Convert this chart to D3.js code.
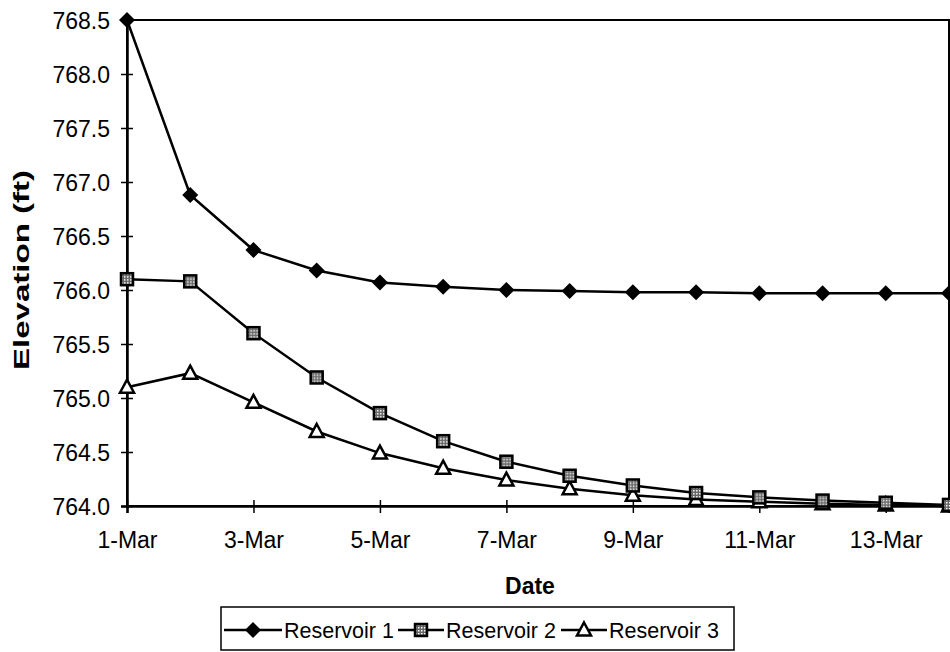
<!DOCTYPE html>
<html>
<head>
<meta charset="utf-8">
<script src="https://cdn.jsdelivr.net/npm/d3@7"></script>
<style>
  body { margin: 0; background: #fff; }
  svg text { font-family: "Liberation Sans", Arial, sans-serif; fill: #000; }
</style>
</head>
<body>
<svg id="chart" width="950" height="652"></svg>
<script>
  // Data
  const dates = ['2001-03-01','2001-03-02','2001-03-03','2001-03-04','2001-03-05','2001-03-06','2001-03-07',
                 '2001-03-08','2001-03-09','2001-03-10','2001-03-11','2001-03-12','2001-03-13','2001-03-14'];
  const reservoir1 = [768.50, 766.88, 766.37, 766.18, 766.07, 766.03, 766.00, 765.99, 765.98, 765.98, 765.97, 765.97, 765.97, 765.97];
  const reservoir2 = [766.10, 766.08, 765.60, 765.19, 764.86, 764.60, 764.41, 764.28, 764.19, 764.12, 764.08, 764.05, 764.03, 764.01];
  const reservoir3 = [765.10, 765.23, 764.96, 764.69, 764.49, 764.35, 764.24, 764.16, 764.10, 764.06, 764.04, 764.02, 764.01, 764.00];
  const seriesNames = ['Reservoir 1', 'Reservoir 2', 'Reservoir 3'];
  const yTicks = [764.0, 764.5, 765.0, 765.5, 766.0, 766.5, 767.0, 767.5, 768.0, 768.5];

  (function() {
    const parse = d3.utcParse('%Y-%m-%d');
    const days = dates.map(parse);

    const svg = d3.select('#chart');

    // dotted fill for the reservoir 2 squares
    const defs = svg.append('defs');
    const pat = defs.append('pattern')
      .attr('id', 'dots')
      .attr('width', 3).attr('height', 3)
      .attr('patternUnits', 'userSpaceOnUse');
    pat.append('rect').attr('width', 3).attr('height', 3).attr('fill', '#666');
    pat.append('rect').attr('width', 1.5).attr('height', 1.5).attr('fill', '#fff');

    const plotLeft = 127, plotRight = 949, plotTop = 20, plotBottom = 506;

    const x = d3.scaleUtc()
      .domain([days[0], days[days.length - 1]])
      .range([plotLeft, plotRight]);
    const y = d3.scaleLinear()
      .domain([764, 768.5])
      .range([plotBottom, plotTop]);

    // plot frame
    svg.append('rect')
      .attr('x', plotLeft).attr('y', plotTop)
      .attr('width', plotRight - plotLeft).attr('height', plotBottom - plotTop)
      .attr('fill', 'none').attr('stroke', '#000').attr('stroke-width', 2);

    // y axis
    const yAxis = d3.axisLeft(y)
      .tickValues(yTicks)
      .tickFormat(d3.format('.1f'))
      .tickSize(6)
      .tickPadding(12);
    const gy = svg.append('g').attr('transform', `translate(${plotLeft},0)`).call(yAxis);
    gy.select('.domain').attr('stroke', '#000').attr('stroke-width', 2.5);
    gy.selectAll('.tick line').attr('x2', 6).attr('x1', -6).attr('stroke', '#000').attr('stroke-width', 1.5);
    gy.selectAll('.tick text').attr('x', -17).attr('font-size', 23).attr('dy', '0.36em')
      .style('font-family', '"Liberation Sans", Arial, sans-serif');

    // x axis, labels on odd days
    const xTickDays = days.filter((d, i) => i % 2 === 0);
    const xAxis = d3.axisBottom(x)
      .tickValues(xTickDays)
      .tickFormat(d3.utcFormat('%-d-%b'))
      .tickSize(7)
      .tickPadding(19);
    const gx = svg.append('g').attr('transform', `translate(0,${plotBottom})`).call(xAxis);
    gx.select('.domain').attr('stroke', '#000').attr('stroke-width', 2.5);
    gx.selectAll('.tick line').attr('y1', -6).attr('stroke', '#000').attr('stroke-width', 1.5);
    gx.selectAll('.tick text').attr('font-size', 23)
      .style('font-family', '"Liberation Sans", Arial, sans-serif');

    // axis titles
    svg.append('text')
      .attr('transform', 'translate(29,270) rotate(-90)')
      .attr('text-anchor', 'middle')
      .attr('font-size', 22).attr('font-weight', 'bold')
      .attr('textLength', 200).attr('lengthAdjust', 'spacingAndGlyphs')
      .text('Elevation (ft)');
    svg.append('text')
      .attr('x', 530).attr('y', 594)
      .attr('text-anchor', 'middle')
      .attr('font-size', 23).attr('font-weight', 'bold')
      .text('Date');

    // lines
    const series = [reservoir1, reservoir2, reservoir3];
    const line = d3.line()
      .x((d, i) => x(days[i]))
      .y(d => y(d));

    series.forEach(vals => {
      svg.append('path')
        .datum(vals)
        .attr('d', line)
        .attr('fill', 'none')
        .attr('stroke', '#000')
        .attr('stroke-width', 2.5);
    });

    function drawMarker(g, k) {
      if (k === 0) {
        g.append('path').attr('d', 'M0,-8L8,0L0,8L-8,0Z').attr('fill', '#000');
      } else if (k === 1) {
        g.append('rect').attr('x', -6).attr('y', -6).attr('width', 12).attr('height', 12)
          .attr('fill', 'url(#dots)').attr('stroke', '#000').attr('stroke-width', 2.5);
      } else {
        g.append('path').attr('d', 'M0,-7.5L7,5.5L-7,5.5Z')
          .attr('fill', '#fff').attr('stroke', '#000').attr('stroke-width', 2.5);
      }
    }

    // markers, bottom series first so reservoir 1 stays on top
    [2, 1, 0].forEach(k => {
      series[k].forEach((v, i) => {
        const g = svg.append('g').attr('transform', `translate(${x(days[i])},${y(v)})`);
        drawMarker(g, k);
      });
    });

    // legend
    const legend = svg.append('g');
    legend.append('rect')
      .attr('x', 221).attr('y', 607).attr('width', 513).attr('height', 43)
      .attr('fill', '#fff').attr('stroke', '#000').attr('stroke-width', 1.5);
    const legendX = [224, 398, 561];
    const legendW = [58, 46, 46];
    seriesNames.forEach((name, k) => {
      const lx = legendX[k], lw = legendW[k];
      legend.append('line')
        .attr('x1', lx).attr('x2', lx + lw)
        .attr('y1', 630).attr('y2', 630)
        .attr('stroke', '#000').attr('stroke-width', 2.5);
      const g = legend.append('g').attr('transform', `translate(${lx + lw / 2},630)`);
      drawMarker(g, k);
      legend.append('text')
        .attr('x', lx + lw + 2).attr('y', 638)
        .attr('font-size', 21.5)
        .text(name);
    });
  })();
</script>
</body>
</html>
